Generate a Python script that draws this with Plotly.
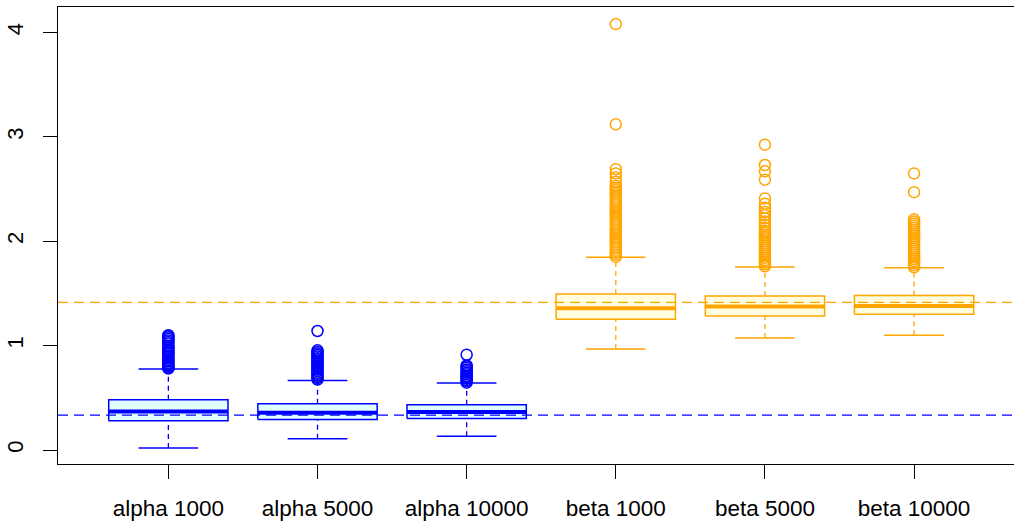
import plotly.graph_objects as go

# ---- data ----
categories = ["alpha 1000", "alpha 5000", "alpha 10000", "beta 1000", "beta 5000", "beta 10000"]
groups = ["alpha", "alpha", "alpha", "beta", "beta", "beta"]
lower_whisker = [0.02, 0.107, 0.132, 0.967, 1.073, 1.099]
q1 = [0.280, 0.293, 0.302, 1.252, 1.284, 1.300]
median = [0.369, 0.357, 0.363, 1.358, 1.374, 1.380]
q3 = [0.482, 0.443, 0.434, 1.495, 1.476, 1.480]
upper_whisker = [0.775, 0.667, 0.641, 1.847, 1.754, 1.745]

outliers = [
    [0.78, 0.79, 0.80, 0.81, 0.82, 0.835, 0.85, 0.86, 0.875, 0.89, 0.90, 0.92, 0.93,
     0.945, 0.96, 0.975, 0.99, 1.00, 1.02, 1.035, 1.05, 1.065, 1.08, 1.09, 1.10],
    [0.675, 0.69, 0.70, 0.715, 0.73, 0.74, 0.755, 0.77, 0.785, 0.80, 0.81, 0.825, 0.84,
     0.855, 0.87, 0.88, 0.895, 0.91, 0.925, 0.94, 0.955, 1.14],
    [0.645, 0.66, 0.67, 0.685, 0.70, 0.71, 0.725, 0.74, 0.755, 0.77, 0.785, 0.80, 0.81, 0.913],
    [1.85, 1.87, 1.89, 1.91, 1.93, 1.95, 1.97, 1.99, 2.01, 2.03, 2.05, 2.07, 2.09, 2.11,
     2.13, 2.15, 2.17, 2.19, 2.21, 2.23, 2.25, 2.27, 2.29, 2.31, 2.33, 2.35, 2.37, 2.39,
     2.41, 2.43, 2.45, 2.47, 2.49, 2.51, 2.53, 2.57, 2.61, 2.65, 2.69, 3.12, 4.08],
    [1.76, 1.78, 1.80, 1.82, 1.84, 1.86, 1.88, 1.90, 1.92, 1.94, 1.96, 1.98, 2.00, 2.02,
     2.04, 2.06, 2.08, 2.10, 2.13, 2.16, 2.19, 2.22, 2.25, 2.28, 2.32, 2.36, 2.41, 2.59,
     2.67, 2.73, 2.925],
    [1.75, 1.77, 1.79, 1.81, 1.83, 1.85, 1.87, 1.89, 1.91, 1.93, 1.95, 1.97, 1.99, 2.01,
     2.03, 2.05, 2.07, 2.09, 2.11, 2.13, 2.15, 2.17, 2.19, 2.21, 2.47, 2.65],
]

reference_values = {"alpha": 1 / 3, "beta": 2 ** 0.5}
y_ticks = [0, 1, 2, 3, 4]

# ---- styles ----
line_colors = {"alpha": "#0000FF", "beta": "#FFA500"}
fill_colors = {"alpha": "#E0FFFF", "beta": "#FFFFE0"}
BOX_HALF = 0.4
STAPLE_HALF = 0.2
FONT = "Liberation Sans, Arial, Helvetica, sans-serif"

fig = go.Figure()

positions = list(range(1, len(categories) + 1))

for grp in ["alpha", "beta"]:
    idx = [i for i, g in enumerate(groups) if g == grp]
    col = line_colors[grp]
    for i in idx:
        p = positions[i]
        fig.add_trace(go.Scatter(
            x=[p - BOX_HALF, p + BOX_HALF, p + BOX_HALF, p - BOX_HALF, p - BOX_HALF],
            y=[q1[i], q1[i], q3[i], q3[i], q1[i]],
            mode="lines", fill="toself", fillcolor=fill_colors[grp],
            line=dict(color=col, width=1.5), hoverinfo="skip", showlegend=False))
    wx, wy, sx, sy, mx, my, ox, oy = [], [], [], [], [], [], [], []
    for i in idx:
        p = positions[i]
        wx += [p, p, None, p, p, None]
        wy += [lower_whisker[i], q1[i], None, q3[i], upper_whisker[i], None]
        sx += [p - STAPLE_HALF, p + STAPLE_HALF, None, p - STAPLE_HALF, p + STAPLE_HALF, None]
        sy += [lower_whisker[i], lower_whisker[i], None, upper_whisker[i], upper_whisker[i], None]
        mx += [p - BOX_HALF, p + BOX_HALF, None]
        my += [median[i], median[i], None]
        ox += [p] * len(outliers[i])
        oy += outliers[i]
    fig.add_trace(go.Scatter(x=wx, y=wy, mode="lines",
                             line=dict(color=col, width=1.3, dash="5px,4px"),
                             hoverinfo="skip", showlegend=False))
    fig.add_trace(go.Scatter(x=sx, y=sy, mode="lines",
                             line=dict(color=col, width=1.5),
                             hoverinfo="skip", showlegend=False))
    fig.add_trace(go.Scatter(x=mx, y=my, mode="lines",
                             line=dict(color=col, width=4),
                             hoverinfo="skip", showlegend=False))
    fig.add_trace(go.Scatter(x=ox, y=oy, mode="markers",
                             marker=dict(symbol="circle-open", size=11, color=col,
                                         line=dict(width=1.5, color=col)),
                             hoverinfo="skip", showlegend=False))

for grp in ["beta", "alpha"]:
    fig.add_hline(y=reference_values[grp], line=dict(color=line_colors[grp], width=1.3,
                                                     dash="10px,6px"))

fig.update_layout(
    width=1014, height=524,
    margin=dict(l=58, r=0, t=7, b=60),
    plot_bgcolor="white", paper_bgcolor="white",
    font=dict(family=FONT, size=22, color="black"),
    showlegend=False,
)
fig.update_xaxes(
    range=[0.26, 6.67], tickvals=positions, ticktext=categories,
    showline=True, linecolor="black", linewidth=1.3, mirror=True,
    ticks="outside", ticklen=14, tickcolor="black", tickwidth=1.2,
    showgrid=False, zeroline=False, ticklabelstandoff=10,
    tickfont=dict(size=22.5, family=FONT, color="black"),
)
fig.update_yaxes(
    range=[-0.134, 4.244], tickvals=y_ticks, ticktext=[str(v) for v in y_ticks],
    showline=True, linecolor="black", linewidth=1.3, mirror=False,
    ticks="outside", ticklen=14, tickcolor="black", tickwidth=1.2,
    showgrid=False, zeroline=False, tickangle=-90, ticklabelstandoff=11,
    tickfont=dict(size=22, family=FONT, color="black"),
)

fig.write_html("out.html", config={"displayModeBar": False},
               post_script="document.body.style.margin='0';document.body.style.overflow='hidden';")
